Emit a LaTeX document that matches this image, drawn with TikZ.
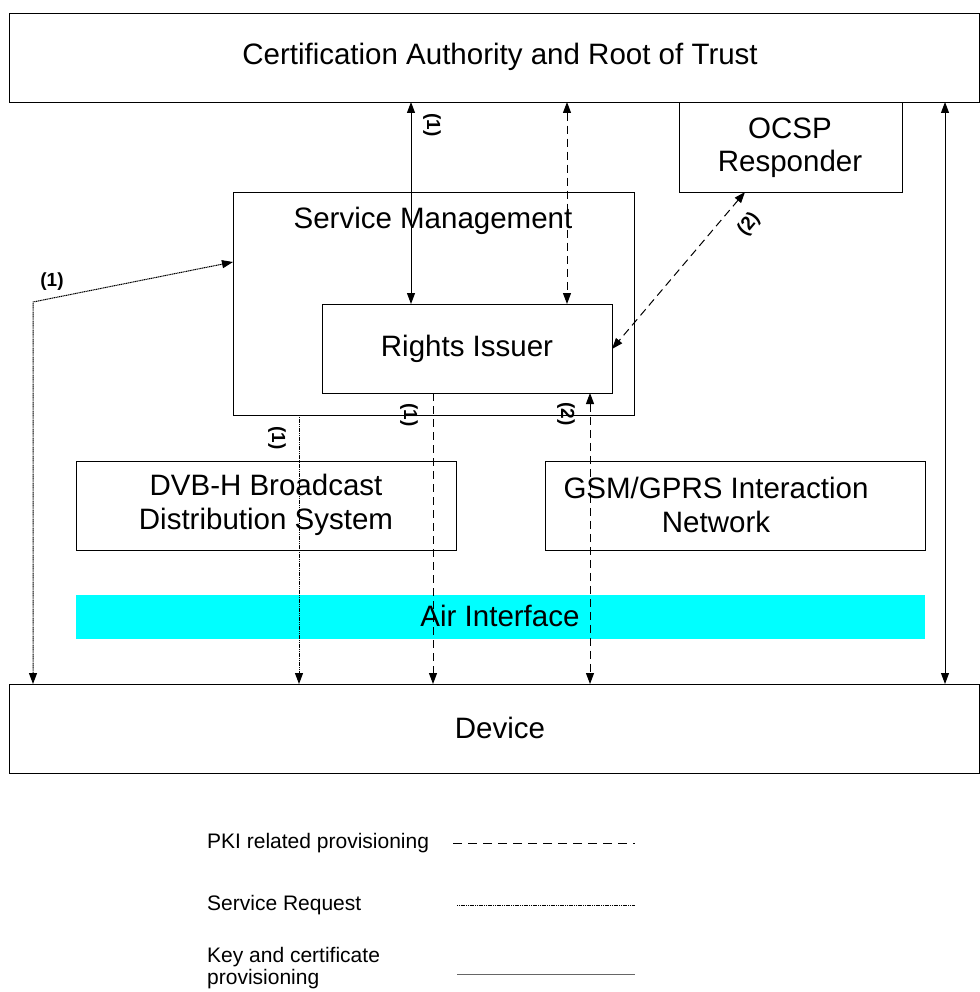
\documentclass[tikz,border=0pt]{standalone}
\usepackage{fontspec}
\setmainfont{Liberation Sans}
\usetikzlibrary{arrows.meta}
\definecolor{aircyan}{RGB}{0,255,255}
\begin{document}
\begin{tikzpicture}[x=1pt,y=-1pt,
  box/.style={draw,line width=0.9pt},
  big/.style={font=\fontsize{29.5}{33.5}\selectfont,align=center},
  lbl/.style={font=\bfseries\fontsize{19}{21}\selectfont,inner sep=1pt},
  leg/.style={font=\fontsize{21}{21.5}\selectfont,align=left,anchor=west,inner sep=0pt},
  tip/.style={-{Triangle[length=11pt,width=8pt]}},
  tips/.style={{Triangle[length=11pt,width=8pt]}-{Triangle[length=11pt,width=8pt]}},
  pki/.style={dash pattern=on 8pt off 5pt,line width=1pt},
  sreq/.style={dash pattern=on 1.2pt off 0.6pt,line width=1pt},
  kcp/.style={line width=1pt}]
\useasboundingbox (0,0) rectangle (979,992);
% boxes
\draw[box] (9,13) rectangle (979,102);
\node[big] (ca) at (500,57) {Certification Authority and Root of Trust};
\draw[box] (679,102) rectangle (902,192);
\node[big] (ocsp) at (790,148) {OCSP\\Responder};
\draw[box] (233,192) rectangle (634,415);
\node[big] (sm) at (433,221) {Service Management};
\draw[box] (322,304) rectangle (612,393);
\node[big] (ri) at (467,349) {Rights Issuer};
\draw[box] (76,461) rectangle (456,550);
\node[big] (dvb) at (266,505) {DVB-H Broadcast\\Distribution System};
\draw[box] (545,461) rectangle (925,550);
\node[big] (gsm) at (716,505) {GSM/GPRS Interaction\\Network};
\fill[aircyan] (76,595) rectangle (925,639);
\node[big] (air) at (500,616) {Air Interface};
\draw[box] (9,684) rectangle (979,773);
\node[big] (dev) at (500,728) {Device};
% coordinates
\coordinate (caA) at (411,102); \coordinate (riA) at (411,304);
\coordinate (caB) at (567,102); \coordinate (riB) at (567,304);
\coordinate (ocC) at (745,192); \coordinate (riC) at (612,349);
\coordinate (devD) at (33,684); \coordinate (bendD) at (33,302); \coordinate (smD) at (233,262);
\coordinate (smE) at (299,415); \coordinate (devE) at (299,684);
\coordinate (riF) at (433,393); \coordinate (devF) at (433,684);
\coordinate (riG) at (590,393); \coordinate (devG) at (590,684);
\coordinate (caH) at (945,102); \coordinate (devH) at (945,684);
% connectors
\draw[tips,kcp] (caA) -- (riA);
\draw[tips,pki] (caB) -- (riB);
\draw[tips,pki] (ocC) -- (riC);
\draw[tips,sreq] (devD) -- (bendD) -- (smD);
\draw[tip,sreq] (smE) -- (devE);
\draw[tip,pki] (riF) -- (devF);
\draw[tips,pki] (riG) -- (devG);
\draw[tips,kcp] (caH) -- (devH);
% labels
\node[lbl,rotate=-90] (l1) at (432,125) {(1)};
\node[lbl,rotate=50] (l2) at (749,224) {(2)};
\node[lbl] (l3) at (52,282) {(1)};
\node[lbl,rotate=-90] (l4) at (277,438) {(1)};
\node[lbl,rotate=-90] (l5) at (409,415) {(1)};
\node[lbl,rotate=-90] (l6) at (566,414) {(2)};
% legend
\node[leg] (lg1) at (207,843) {PKI related provisioning};
\coordinate (p1a) at (453,843); \coordinate (p1b) at (635,843);
\draw[dash pattern=on 9pt off 6pt,line width=1pt] (p1a) -- (p1b);
\node[leg] (lg2) at (207,905) {Service Request};
\coordinate (p2a) at (457,905); \coordinate (p2b) at (635,905);
\draw[sreq,line width=0.8pt] (p2a) -- (p2b);
\node[leg] (lg3) at (207,968) {Key and certificate\\provisioning};
\coordinate (p3a) at (457,974); \coordinate (p3b) at (635,974);
\draw[line width=1pt,black!60] (p3a) -- (p3b);
\end{tikzpicture}
\end{document}
